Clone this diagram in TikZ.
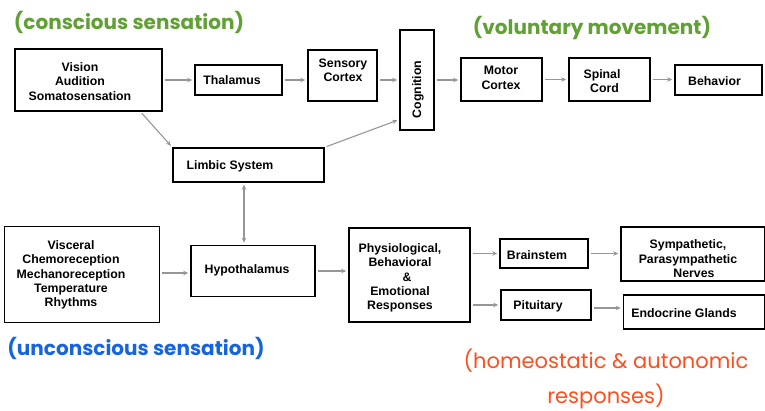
\documentclass[tikz,border=0pt]{standalone}
\usepackage{fontspec}
\setmainfont{Liberation Sans}
\newfontfamily\notefont{Poppins}
\usetikzlibrary{calc,arrows.meta}
\definecolor{notegreen}{RGB}{96,160,52}
\definecolor{noteblue}{RGB}{22,100,222}
\definecolor{notered}{RGB}{255,78,30}
\definecolor{linkgray}{RGB}{150,150,150}
\tikzset{
  box/.style={draw=black, line width=1.5pt, rectangle, inner sep=0pt},
  txt/.style={font=\fontsize{12.3}{14.4}\selectfont\bfseries, align=center, inner sep=0pt},
  link/.style={draw=linkgray, line width=1.1pt, -{Stealth[length=5pt,width=4.5pt]}, shorten <=2pt, shorten >=2pt},
  duallink/.style={link, {Stealth[length=5pt,width=4.5pt]}-{Stealth[length=5pt,width=4.5pt]}},
  note/.style={font=\notefont\fontsize{20}{22}\selectfont\bfseries, inner sep=0pt},
}
\begin{document}
\begin{tikzpicture}[x=1pt,y=-1pt]
\useasboundingbox (0,0) rectangle (765,411);

% boxes (centre, size)
\node[box, minimum width=147, minimum height=62] (vis)   at (88.5,80)  {};
\node[box, minimum width=87,  minimum height=30] (thal)  at (238.5,80) {};
\node[box, minimum width=69,  minimum height=51] (sens)  at (342.5,75.5) {};
\node[box, minimum width=34,  minimum height=100] (cog)  at (417,80)  {};
\node[box, minimum width=81,  minimum height=43] (motor) at (501.5,79.5) {};
\node[box, minimum width=81,  minimum height=43] (spine) at (609.5,79.5) {};
\node[box, minimum width=87,  minimum height=30] (behav) at (718.5,80) {};
\node[box, minimum width=151, minimum height=34] (limb)  at (248.5,165) {};
\node[box, minimum width=155, minimum height=96] (visc)  at (82,274.5) {};
\node[box, minimum width=124, minimum height=51] (hypo)  at (253,271) {};
\node[box, minimum width=121, minimum height=94] (phys)  at (409.5,275) {};
\node[box, minimum width=88,  minimum height=29] (brain) at (544,253.5) {};
\node[box, minimum width=144, minimum height=54] (symp)  at (693,254) {};
\node[box, minimum width=90,  minimum height=30] (pit)   at (546,305) {};
\node[box, minimum width=141, minimum height=34] (endo)  at (694,312) {};

% box texts
\node[txt] (vist)   at (80,81.5)   {Vision\\Audition\\Somatosensation};
\node[txt] (thalt)  at (232,80.5)  {Thalamus};
\node[txt] (senst)  at (343,70)    {Sensory\\Cortex};
\node[txt, rotate=90] (cogt) at (418,89.5) {Cognition};
\node[txt] (motort) at (501,78)    {Motor\\Cortex};
\node[txt] (spinet) at (602,81)    {Spinal\\\hspace*{5pt}Cord};
\node[txt] (behavt) at (714.5,81)  {Behavior};
\node[txt] (limbt)  at (230,166.5) {Limbic System};
\node[txt] (visct)  at (71,275)    {Visceral\\Chemoreception\\Mechanoreception\\Temperature\\Rhythms};
\node[txt] (hypot)  at (247,270.5) {Hypothalamus};
\node[txt] (physt)  at (400,278)   {Physiological,\\Behavioral\\\hspace*{14pt}\&\\Emotional\\Responses};
\node[txt] (braint) at (537,255.5) {Brainstem};
\node[txt] (sympt)  at (688,259)   {Sympathetic,\\Parasympathetic\\\hspace*{12pt}Nerves};
\node[txt] (pitt)   at (538,306.5) {Pituitary};
\node[txt] (endot)  at (684,313.5) {Endocrine Glands};

% top row
\draw[link] (vis.east) -- (thal.west);
\draw[link] (thal.east) -- (sens.west |- thal.east);
\draw[link] (sens.east |- cog.west) -- (cog.west);
\draw[link] (cog.east) -- (motor.west |- cog.east);
\draw[link] (motor.east) -- (spine.west);
\draw[link] (spine.east) -- (behav.west |- spine.east);

% links through the limbic system
\draw[link] ($(vis.south west)!0.85!(vis.south east)$) -- (limb.north west);
\draw[link] (limb.north east) -- ($(cog.south west)!0.11!(cog.north west)$);
\coordinate (lh) at ($(limb.south)+(-4.5,0)$);
\draw[duallink] (lh) -- (lh |- hypo.north);

% bottom row
\coordinate (vo) at ($(visc.east)+(0,-1.5)$);
\draw[link] (vo) -- (hypo.west |- vo);
\draw[link] (hypo.east) -- (phys.west |- hypo.east);
\draw[link] (phys.east |- brain.west) -- (brain.west);
\draw[link] (phys.east |- pit.west) -- (pit.west);
\draw[link] (brain.east) -- (symp.west |- brain.east);
\coordinate (po) at ($(pit.east)+(0,3)$);
\draw[link] (po) -- (endo.west |- po);

% notes
\node[note, text=notegreen] (consc)   at (129,22)  {(conscious sensation)};
\node[note, text=notegreen] (volun)   at (592,28)  {(voluntary movement)};
\node[note, text=noteblue]  (uncon)   at (136,348) {(unconscious sensation)};
\node[note, text=notered, font=\notefont\fontsize{21}{35}\selectfont, align=center] (homeo) at (606,379) {(homeostatic \& autonomic\\responses)};
\end{tikzpicture}
\end{document}
